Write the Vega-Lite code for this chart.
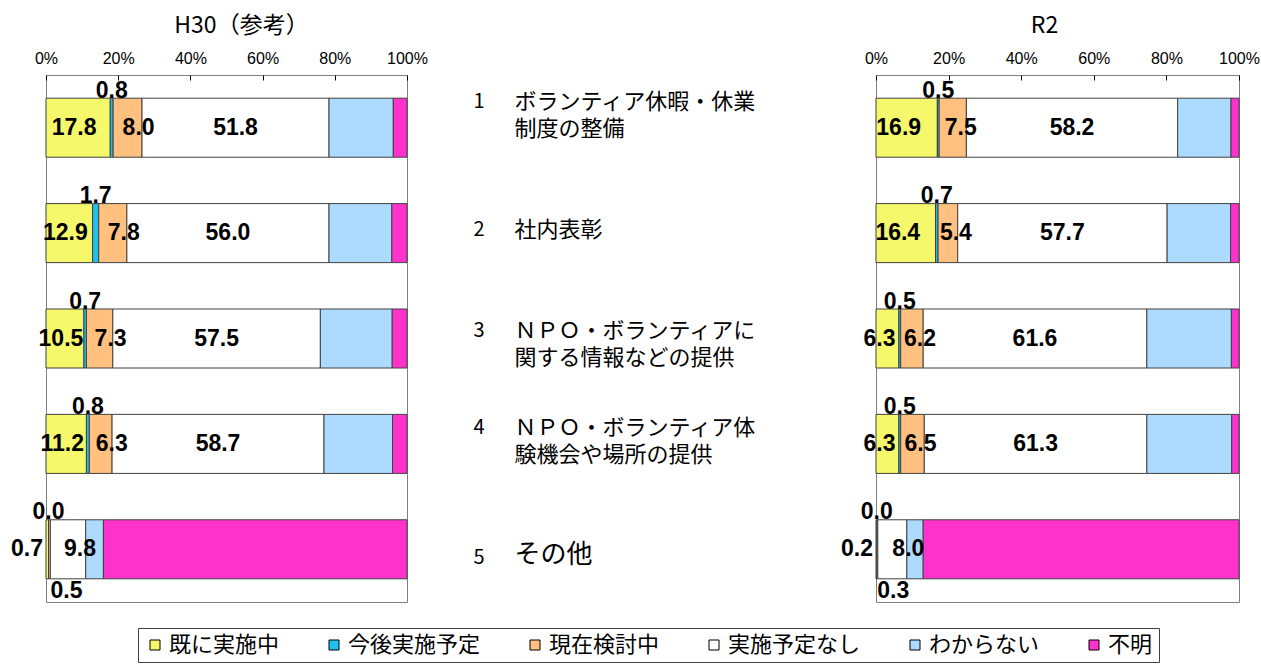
{
  "$schema": "https://vega.github.io/schema/vega-lite/v6.json",
  "background": "white",
  "padding": {"left": 10, "top": 14, "right": 0, "bottom": 0},
  "config": {"view": {"stroke": "#808080", "strokeWidth": 1}},
  "data": {"values": [
    {"year": "H30", "item": "1", "cat": "既に実施中", "order": 1, "value": 17.8},
    {"year": "H30", "item": "1", "cat": "今後実施予定", "order": 2, "value": 0.8},
    {"year": "H30", "item": "1", "cat": "現在検討中", "order": 3, "value": 8.0},
    {"year": "H30", "item": "1", "cat": "実施予定なし", "order": 4, "value": 51.8},
    {"year": "H30", "item": "1", "cat": "わからない", "order": 5, "value": 17.8},
    {"year": "H30", "item": "1", "cat": "不明", "order": 6, "value": 3.8},
    {"year": "H30", "item": "2", "cat": "既に実施中", "order": 1, "value": 12.9},
    {"year": "H30", "item": "2", "cat": "今後実施予定", "order": 2, "value": 1.7},
    {"year": "H30", "item": "2", "cat": "現在検討中", "order": 3, "value": 7.8},
    {"year": "H30", "item": "2", "cat": "実施予定なし", "order": 4, "value": 56.0},
    {"year": "H30", "item": "2", "cat": "わからない", "order": 5, "value": 17.4},
    {"year": "H30", "item": "2", "cat": "不明", "order": 6, "value": 4.2},
    {"year": "H30", "item": "3", "cat": "既に実施中", "order": 1, "value": 10.5},
    {"year": "H30", "item": "3", "cat": "今後実施予定", "order": 2, "value": 0.7},
    {"year": "H30", "item": "3", "cat": "現在検討中", "order": 3, "value": 7.3},
    {"year": "H30", "item": "3", "cat": "実施予定なし", "order": 4, "value": 57.5},
    {"year": "H30", "item": "3", "cat": "わからない", "order": 5, "value": 19.9},
    {"year": "H30", "item": "3", "cat": "不明", "order": 6, "value": 4.1},
    {"year": "H30", "item": "4", "cat": "既に実施中", "order": 1, "value": 11.2},
    {"year": "H30", "item": "4", "cat": "今後実施予定", "order": 2, "value": 0.8},
    {"year": "H30", "item": "4", "cat": "現在検討中", "order": 3, "value": 6.3},
    {"year": "H30", "item": "4", "cat": "実施予定なし", "order": 4, "value": 58.7},
    {"year": "H30", "item": "4", "cat": "わからない", "order": 5, "value": 19.0},
    {"year": "H30", "item": "4", "cat": "不明", "order": 6, "value": 4.0},
    {"year": "H30", "item": "5", "cat": "既に実施中", "order": 1, "value": 0.7},
    {"year": "H30", "item": "5", "cat": "今後実施予定", "order": 2, "value": 0.0},
    {"year": "H30", "item": "5", "cat": "現在検討中", "order": 3, "value": 0.5},
    {"year": "H30", "item": "5", "cat": "実施予定なし", "order": 4, "value": 9.8},
    {"year": "H30", "item": "5", "cat": "わからない", "order": 5, "value": 4.9},
    {"year": "H30", "item": "5", "cat": "不明", "order": 6, "value": 84.1},
    {"year": "R2", "item": "1", "cat": "既に実施中", "order": 1, "value": 16.9},
    {"year": "R2", "item": "1", "cat": "今後実施予定", "order": 2, "value": 0.5},
    {"year": "R2", "item": "1", "cat": "現在検討中", "order": 3, "value": 7.5},
    {"year": "R2", "item": "1", "cat": "実施予定なし", "order": 4, "value": 58.2},
    {"year": "R2", "item": "1", "cat": "わからない", "order": 5, "value": 14.7},
    {"year": "R2", "item": "1", "cat": "不明", "order": 6, "value": 2.2},
    {"year": "R2", "item": "2", "cat": "既に実施中", "order": 1, "value": 16.4},
    {"year": "R2", "item": "2", "cat": "今後実施予定", "order": 2, "value": 0.7},
    {"year": "R2", "item": "2", "cat": "現在検討中", "order": 3, "value": 5.4},
    {"year": "R2", "item": "2", "cat": "実施予定なし", "order": 4, "value": 57.7},
    {"year": "R2", "item": "2", "cat": "わからない", "order": 5, "value": 17.5},
    {"year": "R2", "item": "2", "cat": "不明", "order": 6, "value": 2.3},
    {"year": "R2", "item": "3", "cat": "既に実施中", "order": 1, "value": 6.3},
    {"year": "R2", "item": "3", "cat": "今後実施予定", "order": 2, "value": 0.5},
    {"year": "R2", "item": "3", "cat": "現在検討中", "order": 3, "value": 6.2},
    {"year": "R2", "item": "3", "cat": "実施予定なし", "order": 4, "value": 61.6},
    {"year": "R2", "item": "3", "cat": "わからない", "order": 5, "value": 23.3},
    {"year": "R2", "item": "3", "cat": "不明", "order": 6, "value": 2.1},
    {"year": "R2", "item": "4", "cat": "既に実施中", "order": 1, "value": 6.3},
    {"year": "R2", "item": "4", "cat": "今後実施予定", "order": 2, "value": 0.5},
    {"year": "R2", "item": "4", "cat": "現在検討中", "order": 3, "value": 6.5},
    {"year": "R2", "item": "4", "cat": "実施予定なし", "order": 4, "value": 61.3},
    {"year": "R2", "item": "4", "cat": "わからない", "order": 5, "value": 23.4},
    {"year": "R2", "item": "4", "cat": "不明", "order": 6, "value": 2.0},
    {"year": "R2", "item": "5", "cat": "既に実施中", "order": 1, "value": 0.2},
    {"year": "R2", "item": "5", "cat": "今後実施予定", "order": 2, "value": 0.0},
    {"year": "R2", "item": "5", "cat": "現在検討中", "order": 3, "value": 0.3},
    {"year": "R2", "item": "5", "cat": "実施予定なし", "order": 4, "value": 8.0},
    {"year": "R2", "item": "5", "cat": "わからない", "order": 5, "value": 4.5},
    {"year": "R2", "item": "5", "cat": "不明", "order": 6, "value": 87.0}
  ]},
  "spacing": 469,
  "bounds": "flush",
  "resolve": {"scale": {"x": "independent", "y": "independent"}},
  "hconcat": [
    {
      "width": 361,
      "height": 527,
      "title": {"text": "H30（参考）", "font": "Noto Sans CJK JP", "fontSize": 23, "fontWeight": "normal", "color": "black", "frame": "group", "dx": 15, "offset": 12},
      "transform": [
        {"filter": "datum.year == 'H30'"},
        {"stack": "value", "groupby": ["item"], "sort": [{"field": "order"}], "as": ["x0", "x1"]},
        {"calculate": "(datum.x0 + datum.x1) / 2", "as": "mid"}
      ],
      "encoding": {
        "y": {"field": "item", "type": "nominal", "scale": {"paddingInner": 0.44, "paddingOuter": 0.22},
          "axis": {"orient": "right", "title": null, "domain": false, "ticks": false, "tickSize": 0, "labelAlign": "left", "labelBaseline": "middle", "labelPadding": 66, "labelFont": "Noto Sans CJK JP", "labelFontSize": 20, "labelColor": "black", "labelLimit": 500, "labelOverlap": false,
            "labelOffset": {"expr": "datum.value == '1' ? -26 : datum.value == '2' ? -3 : datum.value == '3' ? -8 : datum.value == '4' ? -16 : 9"}}}
      },
      "layer": [
        {"mark": {"type": "bar", "stroke": "#404040", "strokeWidth": 1},
          "encoding": {
            "x": {"field": "x0", "type": "quantitative", "scale": {"domain": [0, 100], "nice": false},
              "axis": {"orient": "top", "values": [0, 20, 40, 60, 80, 100], "labelExpr": "datum.value + '%'", "title": null, "domain": false, "grid": false, "tickSize": -5, "tickColor": "#000", "labelFont": "Liberation Sans", "labelFontSize": 16, "labelColor": "black", "labelPadding": 14, "labelFlush": false}},
            "x2": {"field": "x1"},
            "color": {"field": "cat", "type": "nominal",
              "scale": {"domain": ["既に実施中", "今後実施予定", "現在検討中", "実施予定なし", "わからない", "不明"], "range": ["#F4F86A", "#1EC0F0", "#FFC080", "#FFFFFF", "#ADDAFF", "#FF33CC"]},
              "legend": {"orient": "none", "legendX": 92, "legendY": 553, "direction": "horizontal", "columns": 6, "title": null, "symbolType": "square", "symbolSize": 100, "symbolStrokeColor": "#000", "symbolStrokeWidth": 1, "labelFont": "Noto Sans CJK JP", "labelFontSize": 22, "labelColor": "black", "labelLimit": 500, "labelOffset": 3, "columnPadding": 43, "padding": 6, "strokeColor": "#404040", "fillColor": "white"}}
          }},
        {"transform": [{"filter": "datum.item != '5' && datum.cat == '既に実施中'"}],
          "mark": {"type": "text", "font": "Liberation Sans", "fontSize": 23, "fontWeight": "bold", "color": "black", "dx": -4},
          "encoding": {"x": {"field": "mid", "type": "quantitative"}, "text": {"field": "value", "type": "quantitative", "format": ".1f"}}},
        {"transform": [{"filter": "datum.item != '5' && datum.cat == '現在検討中'"}],
          "mark": {"type": "text", "font": "Liberation Sans", "fontSize": 23, "fontWeight": "bold", "color": "black", "dx": 11},
          "encoding": {"x": {"field": "mid", "type": "quantitative"}, "text": {"field": "value", "type": "quantitative", "format": ".1f"}}},
        {"transform": [{"filter": "datum.item != '5' && datum.cat == '実施予定なし'"}],
          "mark": {"type": "text", "font": "Liberation Sans", "fontSize": 23, "fontWeight": "bold", "color": "black"},
          "encoding": {"x": {"field": "mid", "type": "quantitative"}, "text": {"field": "value", "type": "quantitative", "format": ".1f"}}},
        {"transform": [{"filter": "datum.cat == '今後実施予定'"}],
          "mark": {"type": "text", "font": "Liberation Sans", "fontSize": 23, "fontWeight": "bold", "color": "black", "baseline": "alphabetic", "dy": -30},
          "encoding": {"x": {"field": "mid", "type": "quantitative"}, "text": {"field": "value", "type": "quantitative", "format": ".1f"}}},
        {"transform": [{"filter": "datum.item == '5' && datum.cat == '既に実施中'"}],
          "mark": {"type": "text", "font": "Liberation Sans", "fontSize": 23, "fontWeight": "bold", "color": "black", "align": "right", "dx": -3},
          "encoding": {"x": {"field": "x0", "type": "quantitative"}, "text": {"field": "value", "type": "quantitative", "format": ".1f"}}},
        {"transform": [{"filter": "datum.item == '5' && datum.cat == '現在検討中'"}],
          "mark": {"type": "text", "font": "Liberation Sans", "fontSize": 23, "fontWeight": "bold", "color": "black", "baseline": "top", "dy": 31, "dx": 17},
          "encoding": {"x": {"field": "mid", "type": "quantitative"}, "text": {"field": "value", "type": "quantitative", "format": ".1f"}}},
        {"transform": [{"filter": "datum.item == '5' && datum.cat == '実施予定なし'"}],
          "mark": {"type": "text", "font": "Liberation Sans", "fontSize": 23, "fontWeight": "bold", "color": "black", "dx": 12},
          "encoding": {"x": {"field": "mid", "type": "quantitative"}, "text": {"field": "value", "type": "quantitative", "format": ".1f"}}}
      ]
    },
    {
      "width": 363,
      "height": 527,
      "title": {"text": "R2", "font": "Noto Sans CJK JP", "fontSize": 23, "fontWeight": "normal", "color": "black", "frame": "group", "dx": -13, "offset": 12},
      "transform": [
        {"filter": "datum.year == 'R2'"},
        {"stack": "value", "groupby": ["item"], "sort": [{"field": "order"}], "as": ["x0", "x1"]},
        {"calculate": "(datum.x0 + datum.x1) / 2", "as": "mid"}
      ],
      "encoding": {
        "y": {"field": "item", "type": "nominal", "scale": {"paddingInner": 0.44, "paddingOuter": 0.22},
          "axis": {"orient": "left", "title": null, "domain": false, "ticks": false, "tickSize": 0, "labelAlign": "left", "labelBaseline": "middle", "labelPadding": 362, "labelFont": "Noto Sans CJK JP", "labelColor": "black", "labelLineHeight": 27, "labelLimit": 500, "labelOverlap": false,
            "labelExpr": "datum.value == '1' ? ['ボランティア休暇・休業', '制度の整備'] : datum.value == '2' ? '社内表彰' : datum.value == '3' ? ['ＮＰＯ・ボランティアに', '関する情報などの提供'] : datum.value == '4' ? ['ＮＰＯ・ボランティア体', '験機会や場所の提供'] : 'その他'",
            "labelFontSize": {"condition": {"test": "datum.value == '5'", "value": 26}, "value": 22},
            "labelOffset": {"expr": "datum.value == '1' ? -26 : datum.value == '2' ? -3 : datum.value == '3' ? -8 : datum.value == '4' ? -16 : 6"}}}
      },
      "layer": [
        {"mark": {"type": "bar", "stroke": "#404040", "strokeWidth": 1},
          "encoding": {
            "x": {"field": "x0", "type": "quantitative", "scale": {"domain": [0, 100], "nice": false},
              "axis": {"orient": "top", "values": [0, 20, 40, 60, 80, 100], "labelExpr": "datum.value + '%'", "title": null, "domain": false, "grid": false, "tickSize": -5, "tickColor": "#000", "labelFont": "Liberation Sans", "labelFontSize": 16, "labelColor": "black", "labelPadding": 14, "labelFlush": false}},
            "x2": {"field": "x1"},
            "color": {"field": "cat", "type": "nominal",
              "scale": {"domain": ["既に実施中", "今後実施予定", "現在検討中", "実施予定なし", "わからない", "不明"], "range": ["#F4F86A", "#1EC0F0", "#FFC080", "#FFFFFF", "#ADDAFF", "#FF33CC"]},
              "legend": {"orient": "none", "legendX": 92, "legendY": 553, "direction": "horizontal", "columns": 6, "title": null, "symbolType": "square", "symbolSize": 100, "symbolStrokeColor": "#000", "symbolStrokeWidth": 1, "labelFont": "Noto Sans CJK JP", "labelFontSize": 22, "labelColor": "black", "labelLimit": 500, "labelOffset": 3, "columnPadding": 43, "padding": 6, "strokeColor": "#404040", "fillColor": "white"}}
          }},
        {"transform": [{"filter": "datum.item != '5' && datum.cat == '既に実施中'"}],
          "mark": {"type": "text", "font": "Liberation Sans", "fontSize": 23, "fontWeight": "bold", "color": "black", "dx": -8},
          "encoding": {"x": {"field": "mid", "type": "quantitative"}, "text": {"field": "value", "type": "quantitative", "format": ".1f"}}},
        {"transform": [{"filter": "datum.item != '5' && datum.cat == '現在検討中'"}],
          "mark": {"type": "text", "font": "Liberation Sans", "fontSize": 23, "fontWeight": "bold", "color": "black", "dx": 8},
          "encoding": {"x": {"field": "mid", "type": "quantitative"}, "text": {"field": "value", "type": "quantitative", "format": ".1f"}}},
        {"transform": [{"filter": "datum.item != '5' && datum.cat == '実施予定なし'"}],
          "mark": {"type": "text", "font": "Liberation Sans", "fontSize": 23, "fontWeight": "bold", "color": "black"},
          "encoding": {"x": {"field": "mid", "type": "quantitative"}, "text": {"field": "value", "type": "quantitative", "format": ".1f"}}},
        {"transform": [{"filter": "datum.cat == '今後実施予定'"}],
          "mark": {"type": "text", "font": "Liberation Sans", "fontSize": 23, "fontWeight": "bold", "color": "black", "baseline": "alphabetic", "dy": -30},
          "encoding": {"x": {"field": "mid", "type": "quantitative"}, "text": {"field": "value", "type": "quantitative", "format": ".1f"}}},
        {"transform": [{"filter": "datum.item == '5' && datum.cat == '既に実施中'"}],
          "mark": {"type": "text", "font": "Liberation Sans", "fontSize": 23, "fontWeight": "bold", "color": "black", "align": "right", "dx": -3},
          "encoding": {"x": {"field": "x0", "type": "quantitative"}, "text": {"field": "value", "type": "quantitative", "format": ".1f"}}},
        {"transform": [{"filter": "datum.item == '5' && datum.cat == '現在検討中'"}],
          "mark": {"type": "text", "font": "Liberation Sans", "fontSize": 23, "fontWeight": "bold", "color": "black", "baseline": "top", "dy": 31, "dx": 16},
          "encoding": {"x": {"field": "mid", "type": "quantitative"}, "text": {"field": "value", "type": "quantitative", "format": ".1f"}}},
        {"transform": [{"filter": "datum.item == '5' && datum.cat == '実施予定なし'"}],
          "mark": {"type": "text", "font": "Liberation Sans", "fontSize": 23, "fontWeight": "bold", "color": "black", "dx": 16},
          "encoding": {"x": {"field": "mid", "type": "quantitative"}, "text": {"field": "value", "type": "quantitative", "format": ".1f"}}}
      ]
    }
  ]
}
